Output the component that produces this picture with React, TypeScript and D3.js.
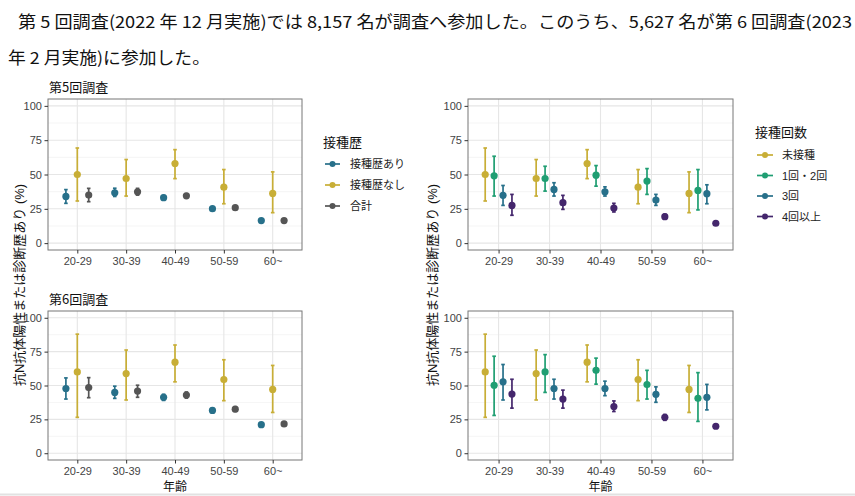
import { useEffect, useRef } from 'react';
import * as d3 from 'd3';

// [推定値, 95%CI下限, 95%CI上限]
type Est = [number, number, number];

const ageGroups = ['20-29', '30-39', '40-49', '50-59', '60~'];
const yTicks = [0, 25, 50, 75, 100];
const yMinor = [12.5, 37.5, 62.5, 87.5];

const historyKeys = ['接種歴あり', '接種歴なし', '合計'];
const doseKeys = ['未接種', '1回・2回', '3回', '4回以上'];

// 第5回調査
const r5VaxYes: Est[] = [[34, 29, 39], [36.7, 34, 40], [33.1, 31.6, 34.6], [25.1, 23.9, 26.4], [16.4, 15.4, 17.4]];
const r5VaxNo: Est[] = [[50, 30.7, 69.3], [47.1, 34.3, 60.9], [58, 47, 68.1], [40.8, 28.7, 53.6], [36.2, 22.2, 51.9]];
const r5Total: Est[] = [[35, 30.2, 39.9], [37.4, 35, 39.9], [34.5, 33, 36], [25.8, 24.5, 27.1], [16.4, 15.4, 17.4]];
const r5Dose12: Est[] = [[49, 34.3, 63.3], [47.1, 37.9, 56], [49.5, 41.5, 56.5], [45.2, 35.5, 54.3], [38.4, 24.2, 53.6]];
const r5Dose3: Est[] = [[34.8, 27.5, 42], [39.1, 34.3, 44], [37.4, 34.3, 41], [31.4, 27.5, 35.5], [36, 28.7, 42.5]];
const r5Dose4: Est[] = [[27.5, 20.3, 35.5], [29.5, 24.6, 34.8], [25.6, 22.7, 29], [19.3, 17.6, 21], [14.5, 13.6, 15.4]];

// 第6回調査
const r6VaxYes: Est[] = [[47.8, 40, 55.6], [44.9, 40.5, 49.5], [41.3, 39, 43.5], [31.6, 30, 33.4], [21.1, 20.2, 22]];
const r6VaxNo: Est[] = [[60, 26.5, 87.9], [58.8, 39.3, 76.2], [67.2, 52.7, 79.9], [54.4, 38.8, 69], [47.1, 30.1, 64.8]];
const r6Total: Est[] = [[48.5, 41, 55.8], [45.9, 41.3, 50.2], [43, 40.7, 45.2], [32.5, 30.9, 34.3], [21.6, 20.5, 22.6]];
const r6Dose12: Est[] = [[50.2, 27.9, 71.6], [60, 44.9, 72.8], [61.2, 51, 70.2], [50.7, 40, 61.2], [40.5, 23.5, 59.5]];
const r6Dose3: Est[] = [[52.7, 39.3, 65.5], [47.8, 40, 54.6], [47.8, 42.5, 53.2], [43.5, 37.6, 49], [41.3, 32, 50.8]];
const r6Dose4: Est[] = [[43.7, 33.3, 54.6], [40, 33.3, 46.6], [34.5, 30.8, 38.6], [26.5, 24.3, 28.6], [19.9, 19, 20.9]];

const historyColors = ['#27708a', '#c8ae36', '#555555'];
const doseColors = ['#c8ae36', '#1f9e72', '#27708a', '#44266c'];

const FONT = "'Liberation Sans', 'Noto Sans CJK JP', sans-serif";
const CJK = "'Noto Sans CJK JP', sans-serif";

interface Panel {
  left: number;
  right: number;
  top: number;
  bottom: number;
  title?: string;
  xTitle?: boolean;
  series: Est[][];
  colors: string[];
}

export default function App() {
  const svgRef = useRef<SVGSVGElement>(null);

  useEffect(() => {
    if (!svgRef.current) return;
    const width = 855;
    const height = 496;
    const svg = d3.select(svgRef.current).attr('width', width).attr('height', height);
    svg.selectAll('*').remove();

    svg.append('rect').attr('width', width).attr('height', height).attr('fill', '#fff');

    // 本文
    svg
      .append('text')
      .attr('x', 18)
      .attr('y', 28)
      .attr('textLength', 834)
      .attr('lengthAdjust', 'spacingAndGlyphs')
      .style('font-family', CJK)
      .style('font-size', '16.5px')
      .style('fill', '#111')
      .text('第 5 回調査(2022 年 12 月実施)では 8,157 名が調査へ参加した。このうち、5,627 名が第 6 回調査(2023');
    svg
      .append('text')
      .attr('x', 8)
      .attr('y', 64)
      .attr('textLength', 202)
      .attr('lengthAdjust', 'spacingAndGlyphs')
      .style('font-family', CJK)
      .style('font-size', '16.5px')
      .style('fill', '#111')
      .text('年 2 月実施)に参加した。');

    const panels: Panel[] = [
      { left: 48, right: 302, top: 99, bottom: 250, title: '第5回調査', series: [r5VaxYes, r5VaxNo, r5Total], colors: historyColors },
      { left: 468, right: 733, top: 99, bottom: 250, series: [r5VaxNo, r5Dose12, r5Dose3, r5Dose4], colors: doseColors },
      { left: 48, right: 302, top: 311, bottom: 460, title: '第6回調査', xTitle: true, series: [r6VaxYes, r6VaxNo, r6Total], colors: historyColors },
      { left: 468, right: 733, top: 311, bottom: 460, xTitle: true, series: [r6VaxNo, r6Dose12, r6Dose3, r6Dose4], colors: doseColors },
    ];

    panels.forEach((p) => {
      const x = d3.scalePoint<string>().domain(ageGroups).range([p.left, p.right]).padding(0.6);
      const y = d3.scaleLinear().domain([-5, 105]).range([p.bottom, p.top]);
      const g = svg.append('g');

      g.append('rect')
        .attr('x', p.left)
        .attr('y', p.top)
        .attr('width', p.right - p.left)
        .attr('height', p.bottom - p.top)
        .attr('fill', '#fff');

      g.selectAll('.minor')
        .data(yMinor)
        .enter()
        .append('line')
        .attr('x1', p.left)
        .attr('x2', p.right)
        .attr('y1', (d) => y(d))
        .attr('y2', (d) => y(d))
        .attr('stroke', '#f0f0f0')
        .attr('stroke-width', 0.7);

      g.selectAll('.hgrid')
        .data(yTicks)
        .enter()
        .append('line')
        .attr('x1', p.left)
        .attr('x2', p.right)
        .attr('y1', (d) => y(d))
        .attr('y2', (d) => y(d))
        .attr('stroke', '#e6e6e6')
        .attr('stroke-width', 1.1);

      g.selectAll('.vgrid')
        .data(ageGroups)
        .enter()
        .append('line')
        .attr('x1', (d) => x(d) || 0)
        .attr('x2', (d) => x(d) || 0)
        .attr('y1', p.top)
        .attr('y2', p.bottom)
        .attr('stroke', '#e6e6e6')
        .attr('stroke-width', 1.1);

      // position_dodge(width = 0.7)
      const n = p.series.length;
      const step = x.step();
      const dodge = (i: number) => (-0.35 + (0.7 / n) * (i + 0.5)) * step;

      p.series.forEach((values, i) => {
        const color = p.colors[i];
        const cx = (k: number) => (x(ageGroups[k]) || 0) + dodge(i);
        const sg = g.append('g');
        const rows = values.map((v, k) => ({ v, k }));

        sg.selectAll('.bar')
          .data(rows)
          .enter()
          .append('line')
          .attr('x1', (d) => cx(d.k))
          .attr('x2', (d) => cx(d.k))
          .attr('y1', (d) => y(d.v[1]))
          .attr('y2', (d) => y(d.v[2]))
          .attr('stroke', color)
          .attr('stroke-width', 1.7);

        [1, 2].forEach((j) => {
          sg.selectAll(`.cap${j}`)
            .data(rows)
            .enter()
            .append('line')
            .attr('x1', (d) => cx(d.k) - 1.8)
            .attr('x2', (d) => cx(d.k) + 1.8)
            .attr('y1', (d) => y(d.v[j]))
            .attr('y2', (d) => y(d.v[j]))
            .attr('stroke', color)
            .attr('stroke-width', 1.7);
        });

        sg.selectAll('.pt')
          .data(rows)
          .enter()
          .append('circle')
          .attr('cx', (d) => cx(d.k))
          .attr('cy', (d) => y(d.v[0]))
          .attr('r', 3.6)
          .attr('fill', color);
      });

      g.append('rect')
        .attr('x', p.left)
        .attr('y', p.top)
        .attr('width', p.right - p.left)
        .attr('height', p.bottom - p.top)
        .attr('fill', 'none')
        .attr('stroke', '#777')
        .attr('stroke-width', 1);

      const yAxis = g
        .append('g')
        .attr('transform', `translate(${p.left}, 0)`)
        .call(d3.axisLeft(y).tickValues(yTicks).tickSize(3.5).tickPadding(2.6));
      const xAxis = g
        .append('g')
        .attr('transform', `translate(0, ${p.bottom})`)
        .call(d3.axisBottom(x).tickSize(3.5).tickPadding(4));

      [yAxis, xAxis].forEach((ax) => {
        ax.select('.domain').remove();
        ax.selectAll('line').attr('stroke', '#333');
        ax.selectAll('text').style('font-family', FONT).style('font-size', '11px').style('fill', '#444');
      });

      if (p.title) {
        g.append('text')
          .attr('x', p.left + 1)
          .attr('y', p.top - 7)
          .style('font-family', CJK)
          .style('font-size', '13px')
          .style('fill', '#111')
          .text(p.title);
      }

      if (p.xTitle) {
        g.append('text')
          .attr('x', (p.left + p.right) / 2)
          .attr('y', 491)
          .attr('text-anchor', 'middle')
          .style('font-family', CJK)
          .style('font-size', '12px')
          .style('fill', '#111')
          .text('年齢');
      }
    });

    // 縦軸タイトル（上下段共通）
    [19.5, 432].forEach((tx) => {
      svg
        .append('text')
        .attr('transform', `translate(${tx}, 285) rotate(-90)`)
        .attr('text-anchor', 'middle')
        .attr('dominant-baseline', 'central')
        .style('font-family', FONT)
        .style('font-size', '13px')
        .style('fill', '#111')
        .text('抗N抗体陽性または診断歴あり (%)');
    });

    // 凡例
    const drawLegend = (lx: number, ty: number, title: string, keys: string[], colors: string[], y0: number, gap: number, keyW: number, textX: number) => {
      const lg = svg.append('g');
      lg.append('text')
        .attr('x', lx)
        .attr('y', ty)
        .attr('dominant-baseline', 'central')
        .style('font-family', CJK)
        .style('font-size', '13px')
        .style('fill', '#111')
        .text(title);
      const items = lg
        .selectAll('.item')
        .data(keys)
        .enter()
        .append('g')
        .attr('transform', (_, i) => `translate(0, ${y0 + i * gap})`);
      items
        .append('line')
        .attr('x1', lx + 2)
        .attr('x2', lx + 2 + keyW)
        .attr('stroke', (_, i) => colors[i])
        .attr('stroke-width', 1.7);
      items
        .append('circle')
        .attr('cx', lx + 2 + keyW / 2)
        .attr('r', 3)
        .attr('fill', (_, i) => colors[i]);
      items
        .append('text')
        .attr('x', textX)
        .attr('dominant-baseline', 'central')
        .style('font-family', FONT)
        .style('font-size', '11px')
        .style('fill', '#222')
        .text((d) => d);
    };

    drawLegend(323, 141, '接種歴', historyKeys, historyColors, 164, 21, 15, 350);
    drawLegend(755, 131.5, '接種回数', doseKeys, doseColors, 155, 20.5, 16, 782);

    svg.append('line').attr('x1', 0).attr('x2', width).attr('y1', 494.5).attr('y2', 494.5).attr('stroke', '#e2e2e2').attr('stroke-width', 2);
  }, []);

  return <svg ref={svgRef} style={{ position: 'absolute', left: 0, top: 0, display: 'block' }} />;
}
